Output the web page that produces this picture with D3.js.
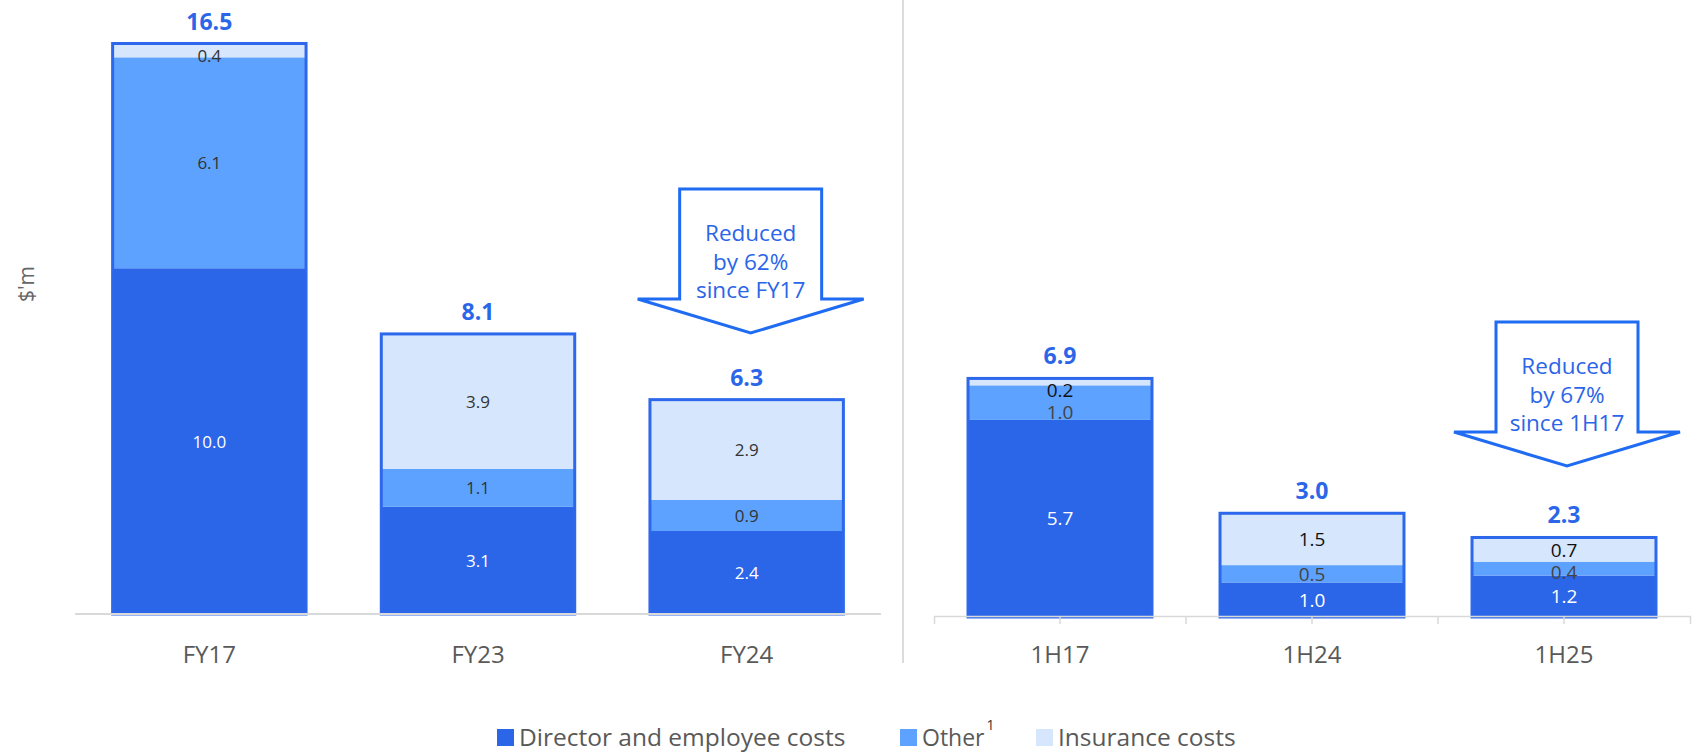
<!DOCTYPE html>
<html>
<head>
<meta charset="utf-8">
<script src="https://cdn.jsdelivr.net/npm/d3@7"></script>
<style>
  html, body { margin: 0; padding: 0; background: #fff; }
  svg { display: block; font-family: "Open Sans", "Noto Sans", sans-serif; }
</style>
</head>
<body>
<svg id="chart" width="1704" height="754"></svg>
<script>
// ---- Data ----
const categoriesL = ["FY17", "FY23", "FY24"];
const directorL   = [10.0, 3.1, 2.4];
const otherL      = [6.1, 1.1, 0.9];
const insuranceL  = [0.4, 3.9, 2.9];
const totalsL     = [16.5, 8.1, 6.3];

const categoriesR = ["1H17", "1H24", "1H25"];
const directorR   = [5.7, 1.0, 1.2];
const otherR      = [1.0, 0.5, 0.4];
const insuranceR  = [0.2, 1.5, 0.7];
const totalsR     = [6.9, 3.0, 2.3];

const seriesKeys   = ["director", "other", "insurance"];
const seriesNames  = ["Director and employee costs", "Other", "Insurance costs"];
const arrowTextL   = ["Reduced", "by 62%", "since FY17"];
const arrowTextR   = ["Reduced", "by 67%", "since 1H17"];
const yAxisTitle   = "$'m";

// ---- Styles ----
const colors = { director: "#2B65E8", other: "#5CA2FE", insurance: "#D5E6FD" };
const outlineColor = "#2D68EC";
const arrowColor = "#1F6BF2";
const textBlue = "#2B65E8";

const svg = d3.select("#chart");

function buildRows(cats, d, o, ins, tot) {
  return cats.map((c, i) => ({ cat: c, director: d[i], other: o[i], insurance: ins[i], total: tot[i] }));
}
const rowsL = buildRows(categoriesL, directorL, otherL, insuranceL, totalsL);
const rowsR = buildRows(categoriesR, directorR, otherR, insuranceR, totalsR);

const stack = d3.stack().keys(seriesKeys);

// Scales
const xL = d3.scaleBand().domain(categoriesL).range([75, 881]).paddingInner(0.28).paddingOuter(0.14);
const xR = d3.scaleBand().domain(categoriesR).range([934, 1690]).paddingInner(0.27).paddingOuter(0.135);
const yL = d3.scaleLinear().domain([0, 16.5]).range([614, 43.5]);
const yR = d3.scaleLinear().domain([0, 16.5]).range([617, 46.5]);

function drawPanel(rows, x, y, opts) {
  const g = svg.append("g");
  const series = stack(rows);
  series.forEach(s => {
    const key = s.key;
    g.selectAll(null).data(s).join("rect")
      .attr("x", d => x(d.data.cat))
      .attr("width", x.bandwidth())
      .attr("y", d => y(d[1]))
      .attr("height", d => y(d[0]) - y(d[1]))
      .attr("fill", colors[key]);
  });
  // outline
  g.selectAll(null).data(rows).join("rect")
    .attr("x", d => x(d.cat))
    .attr("width", x.bandwidth())
    .attr("y", d => y(d.director + d.other + d.insurance))
    .attr("height", d => y(0) - y(d.director + d.other + d.insurance))
    .attr("fill", "none")
    .attr("stroke", outlineColor)
    .attr("stroke-width", 3);
  // segment labels: placed top-down, nudged to avoid heavy overlap
  const labels = [];
  rows.forEach((r, ri) => {
    let prev = -Infinity;
    for (let k = series.length - 1; k >= 0; k--) {
      const d = series[k][ri];
      const top = y(d[1]), bot = y(d[0]);
      let cy = (top + bot) / 2;
      if (prev === -Infinity) cy = Math.max(cy, top + 12);
      cy = Math.max(cy, prev + opts.spacing);
      prev = cy;
      labels.push({ key: series[k].key, cat: r.cat, cy, v: d[1] - d[0] });
    }
  });
  g.selectAll(null).data(labels).join("text")
    .attr("x", d => x(d.cat) + x.bandwidth() / 2)
    .attr("y", d => d.cy)
    .attr("text-anchor", "middle")
    .attr("dominant-baseline", "central")
    .attr("font-size", opts.segFont)
    .attr("fill", d => d.key === "director" ? "#ffffff" : (d.key === "other" ? opts.midText : opts.lightText))
    .text(d => d.v.toFixed(1));
  // totals
  g.selectAll(null).data(rows).join("text")
    .attr("x", d => x(d.cat) + x.bandwidth() / 2)
    .attr("y", d => y(d.director + d.other + d.insurance) - 14)
    .attr("text-anchor", "middle")
    .attr("font-size", 23)
    .attr("font-weight", "bold")
    .attr("fill", textBlue)
    .text(d => d.total.toFixed(1));
  return g;
}

drawPanel(rowsL, xL, yL, { segFont: 17, midText: "#333", lightText: "#333", spacing: 17 });
drawPanel(rowsR, xR, yR, { segFont: 19, midText: "#444", lightText: "#111", spacing: 22 });

// Axes
const axL = svg.append("g").attr("transform", `translate(0,${yL(0)})`)
  .call(d3.axisBottom(xL).tickSize(0).tickSizeOuter(0).tickPadding(32));
axL.select(".domain").attr("stroke", "#d9d9d9").attr("stroke-width", 2)
  .attr("d", `M${xL.range()[0]},0H${xL.range()[1]}`);
axL.selectAll("text").attr("font-size", 24).attr("fill", "#595959").attr("font-family", "Open Sans");

const axR = svg.append("g").attr("transform", `translate(0,${yR(0) - 1})`)
  .call(d3.axisBottom(xR).tickSize(8).tickSizeOuter(8).tickPadding(22));
axR.select(".domain").attr("stroke", "#d9d9d9").attr("stroke-width", 1.5);
axR.selectAll(".tick line").attr("stroke", "#d9d9d9").attr("stroke-width", 1.5);
axR.selectAll("text").attr("font-size", 24).attr("fill", "#595959").attr("font-family", "Open Sans");
// boundary ticks between categories
const boundaries = categoriesR.slice(1).map(c => xR(c) - xR.step() * xR.paddingInner() / 2);
axR.selectAll(".btick").data(boundaries).join("line")
  .attr("x1", d => d).attr("x2", d => d).attr("y1", 0).attr("y2", 8)
  .attr("stroke", "#d9d9d9").attr("stroke-width", 1.5);

// Divider
svg.append("line").attr("x1", 903).attr("x2", 903).attr("y1", 0).attr("y2", 663)
  .attr("stroke", "#d0d0d0").attr("stroke-width", 1.5);

// Y axis title
svg.append("text").attr("transform", "translate(34,284) rotate(-90)")
  .attr("text-anchor", "middle").attr("font-size", 21).attr("fill", "#666").text(yAxisTitle);

// Arrows
function arrow(cx, top, lines) {
  const bw = 71, wing = 113, shaft = 110, tip = 144;
  const p = d3.path();
  p.moveTo(cx - bw, top);
  p.lineTo(cx + bw, top);
  p.lineTo(cx + bw, top + shaft);
  p.lineTo(cx + wing, top + shaft);
  p.lineTo(cx, top + tip);
  p.lineTo(cx - wing, top + shaft);
  p.lineTo(cx - bw, top + shaft);
  p.closePath();
  svg.append("path").attr("d", p.toString()).attr("fill", "#fff")
    .attr("stroke", arrowColor).attr("stroke-width", 3).attr("stroke-linejoin", "miter");
  svg.append("g").selectAll("text").data(lines).join("text")
    .attr("x", cx).attr("y", (d, i) => top + 52 + i * 28.5)
    .attr("text-anchor", "middle").attr("font-size", 22.5).attr("fill", textBlue)
    .text(d => d);
}
arrow(xL("FY24") + xL.bandwidth() / 2 + 4, 189, arrowTextL);
arrow(xR("1H25") + xR.bandwidth() / 2 + 3, 322, arrowTextR);

// Legend
const legendX = [497, 900, 1036];
const legendFont = [24.5, 23, 24.5];
const lg = svg.append("g");
seriesKeys.forEach((k, i) => {
  lg.append("rect").attr("x", legendX[i]).attr("y", 729).attr("width", 17).attr("height", 17).attr("fill", colors[k]);
  const t = lg.append("text").attr("x", legendX[i] + 22).attr("y", 746)
    .attr("font-size", legendFont[i]).attr("fill", "#595959").text(seriesNames[i]);
  if (k === "other") {
    const w = t.node().getComputedTextLength();
    lg.append("text").attr("x", legendX[i] + 22 + w + 2).attr("y", 730)
      .attr("font-size", 14).attr("fill", "#333").text("1");
  }
});
</script>
</body>
</html>
